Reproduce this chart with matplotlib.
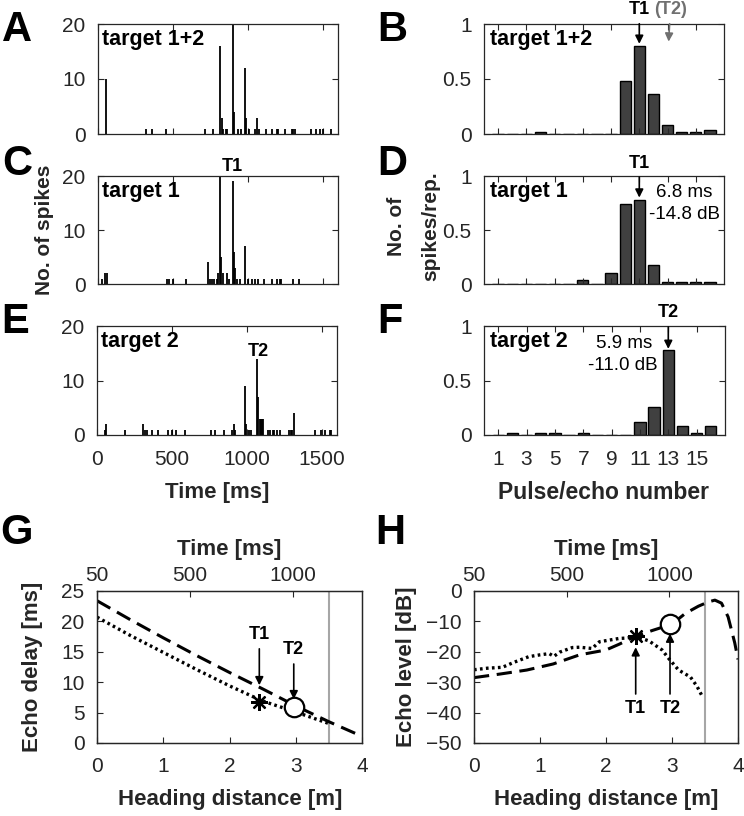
import matplotlib
matplotlib.use('Agg')
import matplotlib.pyplot as plt

plt.rcParams['font.family'] = ['Liberation Sans', 'DejaVu Sans']

# ---------------- data ----------------
# spike counts per time bin (ms)
spk12_t = [55, 319, 359, 452, 716, 764, 815, 824, 835, 850, 862, 897, 906, 935, 950, 979, 988,
           1008, 1046, 1061, 1072, 1123, 1157, 1190, 1203, 1245, 1290, 1300, 1312, 1422, 1456,
           1478, 1500, 1555]
spk12_n = [10, 1, 1, 1, 1, 1, 16, 3, 1, 1, 1, 22, 4, 1, 1, 12, 3,
           1, 1, 3, 1, 1, 1, 1, 1, 1, 1, 1, 1, 1, 1,
           1, 1, 1]

spk1_t = [27, 49, 58, 459, 472, 499, 587, 733, 747, 760, 775, 791, 798, 813, 822, 831, 857, 871,
          897, 906, 915, 924, 946, 979, 1002, 1024, 1046, 1068, 1106, 1157, 1194, 1210, 1223,
          1301, 1341]
spk1_n = [1, 2, 2, 1, 1, 1, 1, 4, 1, 1, 1, 1, 2, 22, 5, 2, 2, 1,
          19, 6, 3, 1, 1, 7, 1, 1, 1, 1, 1, 1, 1, 1, 1,
          1, 1]

spk2_t = [55, 62, 184, 307, 318, 336, 369, 407, 473, 500, 529, 587, 758, 784, 844, 902, 916, 920,
          989, 996, 1011, 1029, 1067, 1076, 1084, 1092, 1100, 1107, 1140, 1150, 1170, 1180, 1200,
          1218, 1280, 1290, 1300, 1311, 1451, 1496, 1518, 1551, 1562]
spk2_n = [1, 2, 1, 2, 1, 1, 1, 1, 1, 1, 1, 1, 1, 1, 1, 1, 2, 1,
          9, 2, 1, 1, 14, 7, 3, 3, 3, 3, 1, 1, 1, 1, 1,
          1, 1, 1, 1, 4, 1, 1, 1, 1, 1]

# spikes per repetition per pulse/echo number
pulse_no = list(range(1, 17))
rate12 = [0, 0, 0, 0.02, 0, 0, 0, 0, 0, 0.48, 0.80, 0.36, 0.08, 0.02, 0.02, 0.04]
rate1 = [0, 0, 0, 0, 0, 0, 0.04, 0, 0.10, 0.74, 0.78, 0.18, 0.015, 0.015, 0.015, 0.015]
rate2 = [0, 0.015, 0, 0.015, 0.015, 0, 0.015, 0, 0, 0, 0.12, 0.26, 0.78, 0.08, 0.02, 0.08]

# echo delay vs heading distance
dist_t2_delay = [0, 0.5, 1.0, 1.5, 2.0, 2.5, 3.0, 3.5, 4.0]
delay_t2 = [23.4, 20.3, 17.3, 14.4, 11.6, 8.9, 6.1, 3.5, 1.1]
dist_t1_delay = [0, 0.5, 1.0, 1.5, 2.0, 2.5, 3.0, 3.5]
delay_t1 = [20.7, 17.7, 14.9, 12.1, 9.4, 6.9, 5.1, 3.2]

# echo level vs heading distance
dist_t2_level = [0, 0.4, 0.8, 1.2, 1.6, 2.0, 2.2, 2.45, 2.7, 3.0, 3.2, 3.4, 3.55, 3.65, 3.75,
                 3.85, 3.95, 4.0]
level_t2 = [-28.5, -27.3, -26.0, -24.0, -21.0, -19.4, -17.5, -14.9, -13.0, -10.9, -7.4, -5.0,
            -3.6, -3.0, -4.0, -8.5, -17.0, -22.5]
dist_t1_level = [0, 0.2, 0.43, 0.6, 0.83, 1.0, 1.14, 1.21, 1.3, 1.49, 1.6, 1.79, 1.9, 2.2, 2.3,
                 2.45, 2.65, 2.85, 2.95, 3.1, 3.28, 3.38, 3.45]
level_t1 = [-25.9, -25.4, -25.1, -23.5, -21.6, -21.0, -20.6, -21.5, -20.1, -18.6, -18.5, -18.9,
            -16.7, -15.6, -15.5, -15.0, -16.4, -19.4, -22.2, -26.0, -28.3, -31.4, -34.3]

t1_point = (2.45, 6.8, -14.8)   # distance, delay, level
t2_point = (2.97, 5.9, -11.0)
target_dist = 3.5
time_ticks = [50, 500, 1000]
time_lim = (50, 1334)

# ---------------- figure ----------------
W, H = 744, 816
fig = plt.figure(figsize=(W / 100, H / 100), dpi=100)
AX = '#262626'
TICK_FS = 15
LAB_FS = 15.5
ANN_FS = 13


def px_axes(l, t, r, b):
    return fig.add_axes([l / W, 1 - b / H, (r - l) / W, (b - t) / H])


def style(ax, mirror=True):
    for s in ax.spines.values():
        s.set_color(AX)
        s.set_linewidth(0.9)
    ax.tick_params(direction='in', length=4, width=0.8, colors=AX, labelsize=TICK_FS,
                   top=mirror, right=mirror)
    ax.tick_params(axis='y', pad=9)
    ax.tick_params(axis='x', pad=11)


def spike_panel(ax, t, n, label, show_x):
    ax.vlines(t, 0, n, color='k', lw=1.3)
    ax.set_xlim(0, 1600)
    ax.set_ylim(0, 20)
    ax.set_yticks([0, 10, 20])
    ax.set_xticks([0, 500, 1000, 1500])
    style(ax)
    if not show_x:
        ax.set_xticklabels([])
    ax.text(0.017, 0.86, label, transform=ax.transAxes, fontsize=LAB_FS, fontweight='bold',
            ha='left', va='center')


def rate_panel(ax, vals, label, show_x):
    ax.bar(pulse_no, vals, width=0.8, color='#404040', edgecolor='k', lw=1.0)
    ax.set_xlim(0, 17)
    ax.set_ylim(0, 1)
    ax.set_yticks([0, 0.5, 1])
    ax.set_yticklabels(['0', '0.5', '1'])
    ax.set_xticks([1, 3, 5, 7, 9, 11, 13, 15])
    style(ax)
    if not show_x:
        ax.set_xticklabels([])
    ax.text(0.025, 0.86, label, transform=ax.transAxes, fontsize=LAB_FS, fontweight='bold',
            ha='left', va='center')


def arrow_label(ax, text, x, y_text, y_tip, color='k', x_text=None):
    ax.annotate(text, xy=(x, y_tip), xytext=(x if x_text is None else x_text, y_text),
                ha='center', va='center',
                fontsize=ANN_FS, fontweight='bold', color=color, annotation_clip=False,
                arrowprops=dict(arrowstyle='-|>', color=color, lw=1.2, mutation_scale=12,
                                shrinkA=2, shrinkB=0))


axA = px_axes(98, 24, 338, 134)
axB = px_axes(484, 24, 724, 134)
axC = px_axes(98, 176, 338, 284)
axD = px_axes(484, 176, 724, 284)
axE = px_axes(97, 326, 337, 435)
axF = px_axes(484, 326, 725, 435)
axG = px_axes(97, 591, 362, 743)
axH = px_axes(474, 591, 738, 743)

spike_panel(axA, spk12_t, spk12_n, 'target 1+2', False)
spike_panel(axC, spk1_t, spk1_n, 'target 1', False)
spike_panel(axE, spk2_t, spk2_n, 'target 2', True)
axC.text(893, 21.7, 'T1', fontsize=ANN_FS, fontweight='bold', ha='center', va='center')
axE.text(1073, 15.4, 'T2', fontsize=ANN_FS, fontweight='bold', ha='center', va='center')

rate_panel(axB, rate12, 'target 1+2', False)
rate_panel(axD, rate1, 'target 1', False)
rate_panel(axF, rate2, 'target 2', True)
arrow_label(axB, 'T1', 11, 1.13, 0.82)
arrow_label(axB, '(T2)', 13.08, 1.13, 0.84, color='#707070', x_text=13.2)
arrow_label(axD, 'T1', 11, 1.12, 0.80)
arrow_label(axF, 'T2', 13, 1.12, 0.79)
axD.text(14.2, 0.85, '6.8 ms', fontsize=13.5, ha='center', va='center')
axD.text(14.2, 0.64, '-14.8 dB', fontsize=13.5, ha='center', va='center')
axF.text(9.9, 0.84, '5.9 ms', fontsize=13.5, ha='center', va='center')
axF.text(9.8, 0.64, '-11.0 dB', fontsize=13.5, ha='center', va='center')

# G: echo delay
for ax in (axG, axH):
    ax.axvline(target_dist, color='#a6a6a6', lw=1.5)
axG.plot(dist_t2_delay, delay_t2, color='k', lw=2.2, ls=(0, (5, 2.5)))
axG.plot(dist_t1_delay, delay_t1, color='k', lw=2.4, ls=(0, (0.8, 1.0)))
axG.plot(t1_point[0], t1_point[1], marker=(8, 2, 0), ms=12, mew=1.6, color='k')
axG.plot(t2_point[0], t2_point[1], marker='o', ms=14, mew=1.6, mfc='white', mec='k')
arrow_label(axG, 'T1', t1_point[0], 17.8, 9.5)
arrow_label(axG, 'T2', t2_point[0], 15.3, 7.2)
axG.set_xlim(0, 4)
axG.set_ylim(0, 25)
axG.set_xticks([0, 1, 2, 3, 4])
axG.set_yticks([0, 5, 10, 15, 20, 25])

# H: echo level
axH.plot(dist_t2_level, level_t2, color='k', lw=2.2, ls=(0, (5, 2.5)))
axH.plot(dist_t1_level, level_t1, color='k', lw=2.4, ls=(0, (0.8, 1.0)))
axH.plot(t1_point[0], t1_point[2], marker=(8, 2, 0), ms=12, mew=1.6, color='k')
axH.plot(t2_point[0], t2_point[2], marker='o', ms=14, mew=1.6, mfc='white', mec='k')
arrow_label(axH, 'T1', t1_point[0], -38.5, -18.5)
arrow_label(axH, 'T2', t2_point[0], -38.5, -14.0)
axH.set_xlim(0, 4)
axH.set_ylim(-50, 0)
axH.set_xticks([0, 1, 2, 3, 4])
axH.set_yticks([-50, -40, -30, -20, -10, 0])

for ax in (axG, axH):
    style(ax, mirror=False)
    ax.tick_params(labelsize=15)
    ax.tick_params(axis='x', pad=10)
    ax.tick_params(axis='y', pad=9)
    top = ax.twiny()
    top.set_xlim(*time_lim)
    top.set_xticks(time_ticks)
    style(top, mirror=False)
    top.tick_params(top=True, bottom=False, labeltop=True, labelbottom=False, labelsize=15, pad=4)
    top.set_xlabel('Time [ms]', fontsize=16, fontweight='bold', color=AX, labelpad=8)
    top.xaxis.set_label_position('top')

# axis labels
fig.text(45 / W, 1 - 230 / H, 'No. of spikes', rotation=90, fontsize=15, fontweight='bold',
         color=AX, ha='center', va='center')
fig.text(396 / W, 1 - 226 / H, 'No. of', rotation=90, fontsize=15,
         fontweight='bold', color=AX, ha='center', va='center')
fig.text(431 / W, 1 - 226 / H, 'spikes/rep.', rotation=90, fontsize=15,
         fontweight='bold', color=AX, ha='center', va='center')
fig.text(217 / W, 1 - 493 / H, 'Time [ms]', fontsize=16, fontweight='bold', color=AX,
         ha='center', va='center')
fig.text(604 / W, 1 - 493 / H, 'Pulse/echo number', fontsize=16.5, fontweight='bold', color=AX,
         ha='center', va='center')
fig.text(230 / W, 1 - 800 / H, 'Heading distance [m]', fontsize=16, fontweight='bold',
         color=AX, ha='center', va='center')
fig.text(606 / W, 1 - 800 / H, 'Heading distance [m]', fontsize=16, fontweight='bold',
         color=AX, ha='center', va='center')
fig.text(33 / W, 1 - 667 / H, 'Echo delay [ms]', rotation=90, fontsize=16, fontweight='bold',
         color=AX, ha='center', va='center')
fig.text(407 / W, 1 - 667 / H, 'Echo level [dB]', rotation=90, fontsize=16, fontweight='bold',
         color=AX, ha='center', va='center')

# panel letters
letters = [('A', 17, 30), ('B', 392, 30), ('C', 17, 164), ('D', 392, 164),
           ('E', 15, 322), ('F', 390, 322), ('G', 17, 533), ('H', 390, 533)]
for s, x, y in letters:
    fig.text(x / W, 1 - y / H, s, fontsize=30, fontweight='bold', ha='center', va='center')

fig.savefig('out.png', dpi=100)
